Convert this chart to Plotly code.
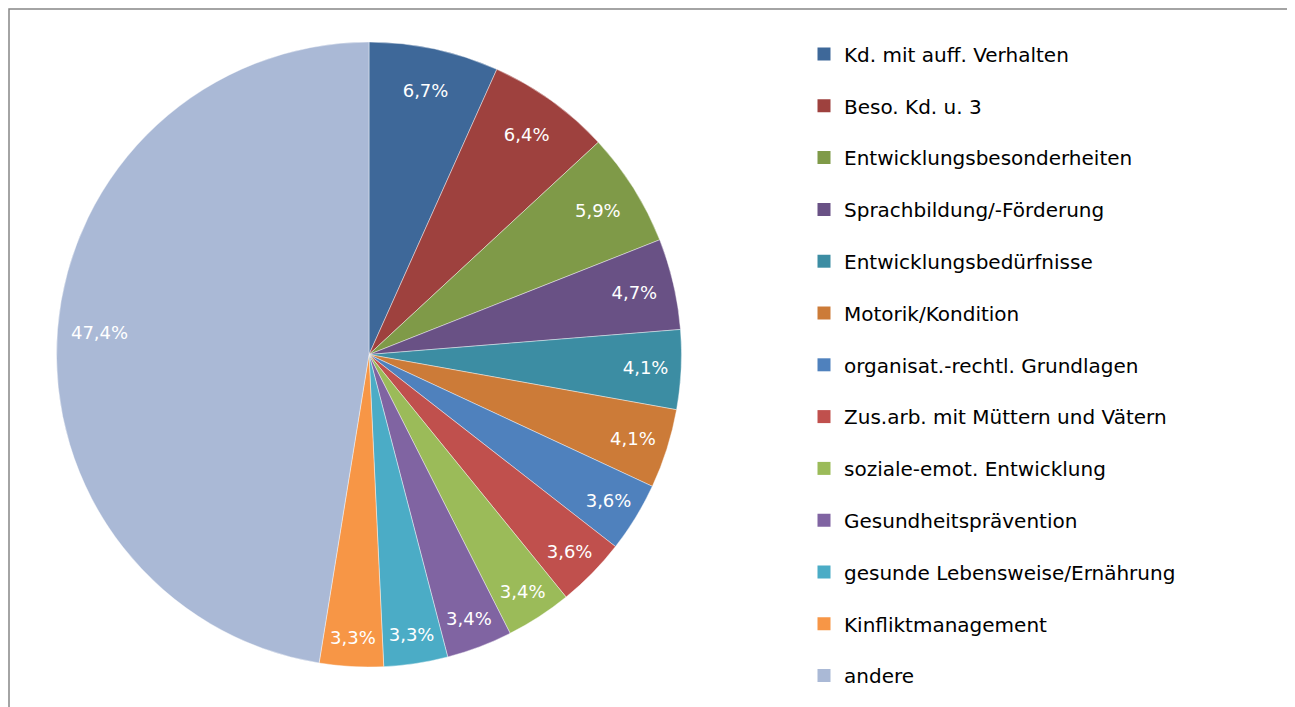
import plotly.graph_objects as go

labels = [
    "Kd. mit auff. Verhalten",
    "Beso. Kd. u. 3",
    "Entwicklungsbesonderheiten",
    "Sprachbildung/-Förderung",
    "Entwicklungsbedürfnisse",
    "Motorik/Kondition",
    "organisat.-rechtl. Grundlagen",
    "Zus.arb. mit Müttern und Vätern",
    "soziale-emot. Entwicklung",
    "Gesundheitsprävention",
    "gesunde Lebensweise/Ernährung",
    "Kinfliktmanagement",
    "andere",
]
values = [6.7, 6.4, 5.9, 4.7, 4.1, 4.1, 3.6, 3.6, 3.4, 3.4, 3.3, 3.3, 47.4]
value_labels = ["6,7%", "6,4%", "5,9%", "4,7%", "4,1%", "4,1%", "3,6%", "3,6%",
                "3,4%", "3,4%", "3,3%", "3,3%", "47,4%"]
colors = ["#3E6899", "#9E413E", "#7F9A48", "#695185", "#3C8DA3", "#CC7B38",
          "#4F81BD", "#C0504D", "#9BBB59", "#8064A2", "#4BACC6", "#F79646", "#AAB9D6"]

# page has an 8px body margin; figure coordinates are page coordinates - 8
W, H = 1287, 699
FONT = "'DejaVu Sans', Arial, sans-serif"

pie_domain = dict(x=[48.5 / W, 673.5 / W], y=[(H - 659) / H, (H - 34) / H])

fig = go.Figure()
# coloured slices
fig.add_trace(go.Pie(
    labels=labels,
    values=values,
    textinfo="none",
    marker=dict(colors=colors, line=dict(color="rgba(255,255,255,0.6)", width=0.7)),
    sort=False,
    direction="clockwise",
    rotation=0,
    showlegend=False,
    text=value_labels,
    hoverinfo="label+text",
    domain=pie_domain,
))
# transparent ring carrying the percentage labels near the outer edge
fig.add_trace(go.Pie(
    labels=labels,
    values=values,
    text=value_labels,
    textinfo="text",
    textposition="inside",
    insidetextorientation="horizontal",
    insidetextfont=dict(family=FONT, size=18, color="white"),
    hole=0.73,
    marker=dict(colors=["rgba(0,0,0,0)"] * len(values), line=dict(width=0)),
    sort=False,
    direction="clockwise",
    rotation=0,
    showlegend=False,
    hoverinfo="skip",
    domain=pie_domain,
))

# legend entries (one per category)
for lab, col in zip(labels, colors):
    fig.add_trace(go.Scatter(
        x=[None], y=[None], mode="markers", name=lab, legendgroup=lab,
        marker=dict(symbol="square", size=13, color=col),
        showlegend=True, hoverinfo="skip",
    ))

fig.update_layout(
    width=W, height=H,
    margin=dict(l=0, r=0, t=0, b=0),
    paper_bgcolor="white", plot_bgcolor="white",
    font=dict(family=FONT, size=20, color="black"),
    xaxis=dict(visible=False), yaxis=dict(visible=False),
    legend=dict(
        x=796 / W, y=1 - 26.5 / H, xanchor="left", yanchor="top",
        font=dict(family=FONT, size=20, color="black"),
        tracegroupgap=22.8, itemsizing="trace",
        bgcolor="rgba(0,0,0,0)",
    ),
    shapes=[dict(type="rect", xref="paper", yref="paper",
                 x0=1 / W, x1=1285 / W, y0=-0.05, y1=1 - 1 / H,
                 line=dict(color="#878787", width=1.5), fillcolor="rgba(0,0,0,0)",
                 layer="below")],
)

fig.write_html("out.html")
